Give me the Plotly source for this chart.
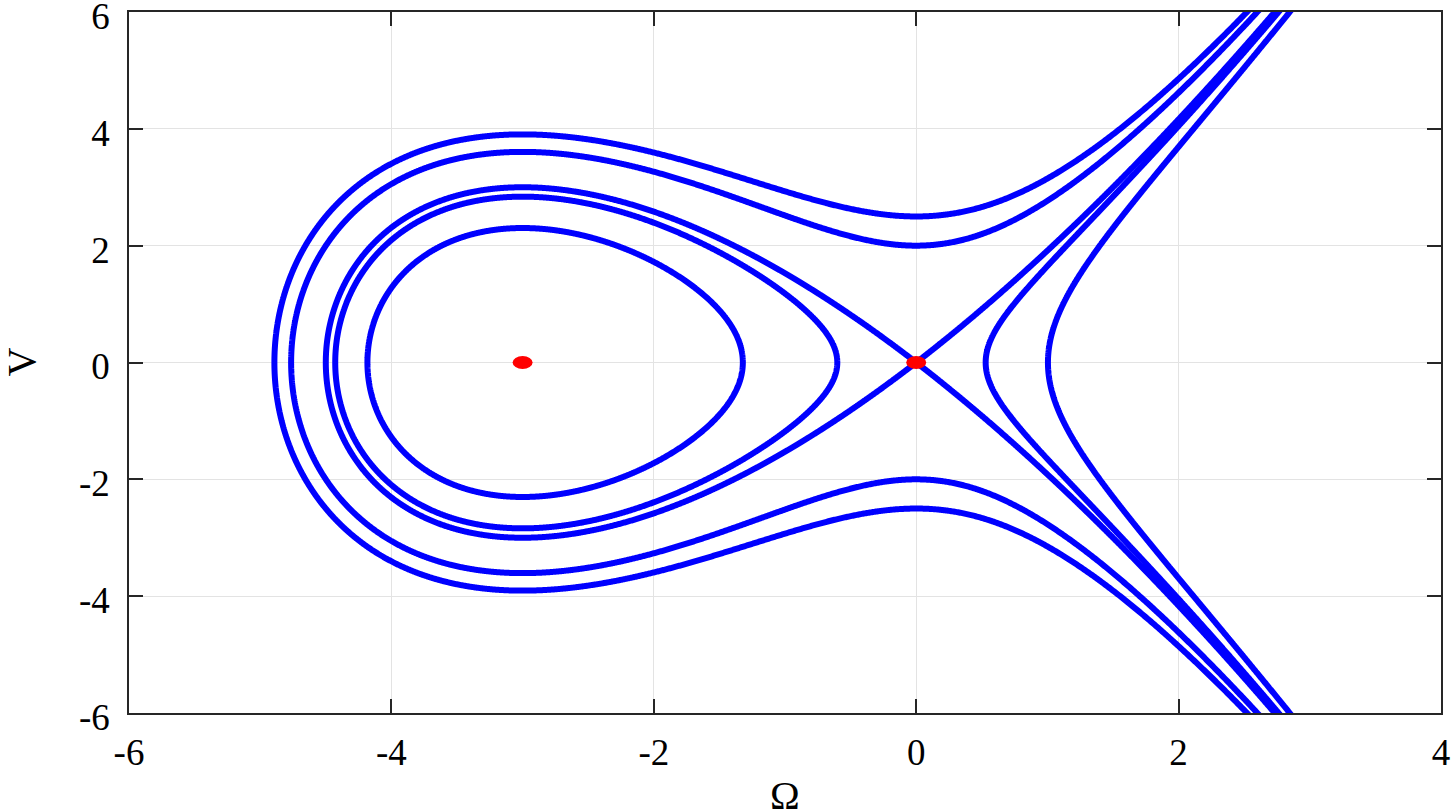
import numpy as np
import plotly.graph_objects as go

# Energy levels H = V^2/2 + U(Omega) of the drawn trajectories
energy_levels = [3.125, 2.0, 0.0, -0.47, -1.85]
# Fixed points (red dots)
fixed_omega = [-3.0, 0.0]
fixed_v = [0.0, 0.0]
# Axes
x_ticks = [-6, -4, -2, 0, 2, 4]
x_tick_labels = ["-6", "-4", "-2", "0", "2", "4"]
y_ticks = [-6, -4, -2, 0, 2, 4, 6]
y_tick_labels = ["-6", "-4", "-2", "0", "2", "4", "6"]
x_range = [-6, 4]
y_range = [-6, 6]

V_EDGE = 6.3  # draw slightly beyond the axis, clipped by the plot area


def potential(w):
    return -w ** 3 / 3.0 - 1.5 * w ** 2


def v_of(w, level):
    return np.sqrt(np.clip(2.0 * (level - potential(w)), 0.0, None))


def turning_points(level):
    r = np.roots([1.0, 4.5, 0.0, 3.0 * level])
    if level <= 0:
        return np.sort(np.real(r))
    return np.sort(r.real[np.abs(r.imag) < 1e-6])


def edge_omega(level):
    r = np.roots([1.0, 4.5, 0.0, 3.0 * (level - V_EDGE ** 2 / 2.0)])
    return np.max(r.real[np.abs(r.imag) < 1e-6])


def curves_for(level):
    out = []
    tp = turning_points(level)
    we = edge_omega(level)
    if level > 0:
        a = tp[0]
        s = np.linspace(0, np.sqrt(we - a), 1500)
        w = a + s ** 2
        v = v_of(w, level)
        out.append((np.concatenate([w[::-1], w[1:]]), np.concatenate([v[::-1], -v[1:]])))
    else:
        a, b, c = tp
        th = np.linspace(0, np.pi, 1200)
        w = a + (b - a) * (1 - np.cos(th)) / 2.0
        v = v_of(w, level)
        out.append((np.concatenate([w, w[::-1]]), np.concatenate([v, -v[::-1]])))
        s = np.linspace(0, np.sqrt(we - c), 1200)
        w = c + s ** 2
        v = v_of(w, level)
        out.append((np.concatenate([w[::-1], w[1:]]), np.concatenate([v[::-1], -v[1:]])))
    return out


fig = go.Figure()
for lvl in energy_levels:
    for xs, ys in curves_for(lvl):
        fig.add_trace(go.Scatter(x=xs, y=ys, mode="lines",
                                 line=dict(color="#0000ff", width=6, simplify=False),
                                 showlegend=False, hoverinfo="skip"))

for w0, v0 in zip(fixed_omega, fixed_v):
    fig.add_shape(type="circle", xref="x", yref="y",
                  xsizemode="pixel", ysizemode="pixel",
                  xanchor=w0, yanchor=v0, x0=-10, x1=10, y0=-6.5, y1=6.5,
                  fillcolor="#ff0000", line=dict(width=0), layer="above")

serif = "Liberation Serif, Times New Roman, serif"
tick_font = dict(family=serif, size=37, color="black")
axis_common = dict(showline=True, linecolor="#262626", linewidth=1.5, mirror="ticks",
                   ticks="inside", ticklen=14, tickwidth=1.5, tickcolor="#262626",
                   showgrid=True, gridcolor="#e3e3e3", gridwidth=1, zeroline=False,
                   tickfont=tick_font, automargin=False, ticklabeloverflow="allow")

fig.update_xaxes(range=x_range, tickvals=x_ticks, ticktext=x_tick_labels,
                 ticklabelstandoff=6, **axis_common)
fig.update_yaxes(range=y_range, tickvals=y_ticks, ticktext=y_tick_labels,
                 ticklabelstandoff=10, ticklabelshift=4, **axis_common)

fig.add_annotation(text="Ω", xref="paper", yref="paper", x=0.5, y=0,
                   xanchor="center", yanchor="top", yshift=-58, showarrow=False,
                   font=dict(family=serif, size=40, color="black"))
fig.add_annotation(text="V", xref="paper", yref="paper", x=0, y=0.5,
                   xanchor="center", yanchor="middle", xshift=-108, textangle=-90,
                   showarrow=False,
                   font=dict(family=serif, size=40, color="black"))

fig.update_layout(width=1454, height=810, plot_bgcolor="white", paper_bgcolor="white",
                  margin=dict(l=129, r=13, t=12, b=97), showlegend=False)

fig.write_html("out.html", config={"displayModeBar": False},
               post_script="document.body.style.margin='0px';document.body.style.overflow='hidden';")
